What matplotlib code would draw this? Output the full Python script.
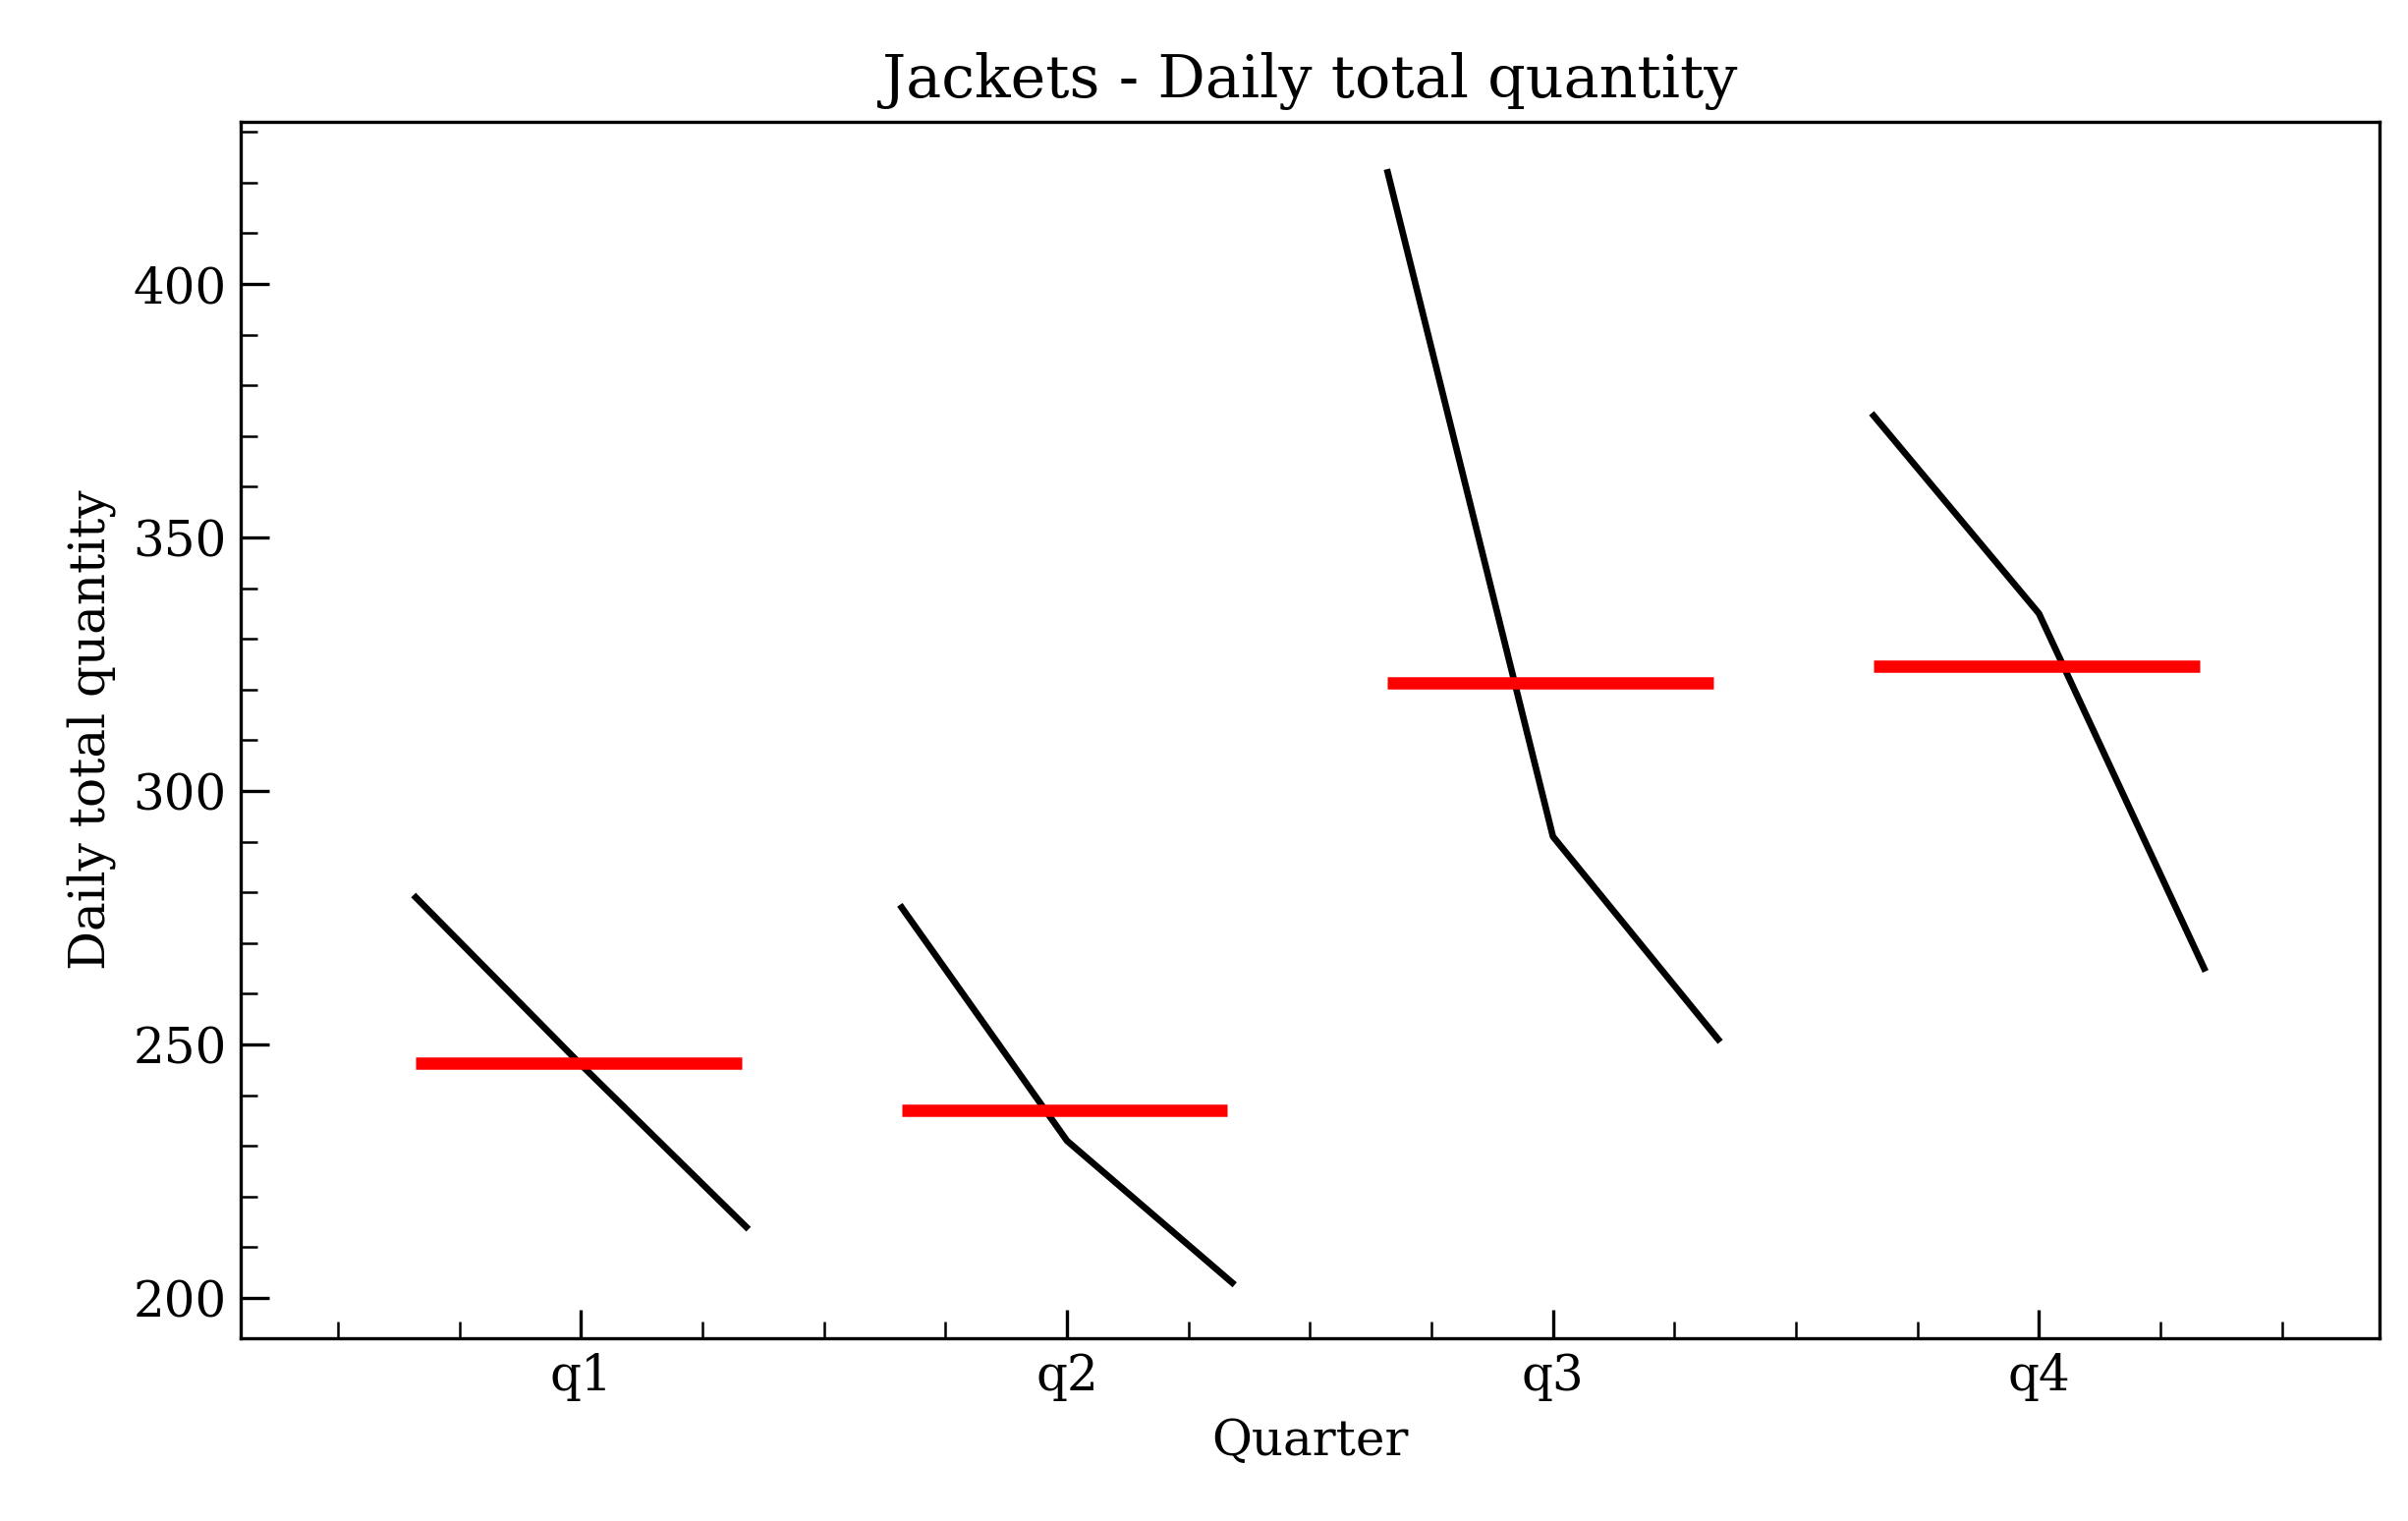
import matplotlib

matplotlib.use("Agg")
import matplotlib.pyplot as plt
import numpy as np
from matplotlib.ticker import MultipleLocator

quarters = ["q1", "q2", "q3", "q4"]
q1 = [279, 246, 214]
q2 = [277, 231, 203]
q3 = [422, 291, 251]
q4 = [374, 335, 265]

plt.rcParams["font.family"] = "DejaVu Serif"
fig, ax = plt.subplots(figsize=(8.17, 5.16), dpi=300)

for i, vals in enumerate([q1, q2, q3, q4]):
    x = i + np.linspace(-0.34, 0.34, len(vals))
    ax.plot(x, vals, color="black", lw=1.6)
    ax.hlines(np.mean(vals), i - 0.34, i + 0.33, color="red", lw=3)

ax.set_xlim(-0.7, 3.7)
ax.set_ylim(192, 432)
ax.set_xticks(range(len(quarters)), quarters)
ax.xaxis.set_minor_locator(MultipleLocator(0.25))
ax.yaxis.set_major_locator(MultipleLocator(50))
ax.yaxis.set_minor_locator(MultipleLocator(10))
ax.tick_params(which="both", direction="in", top=False, right=False, labelsize=12)
ax.tick_params(which="major", length=7)
ax.tick_params(which="minor", length=4)
ax.set_title("Jackets - Daily total quantity", fontsize=14.5)
ax.set_xlabel("Quarter", fontsize=12)
ax.set_ylabel("Daily total quantity", fontsize=12)
fig.subplots_adjust(left=0.1, right=0.988, top=0.92, bottom=0.12)
fig.savefig("out.png", dpi=300)
